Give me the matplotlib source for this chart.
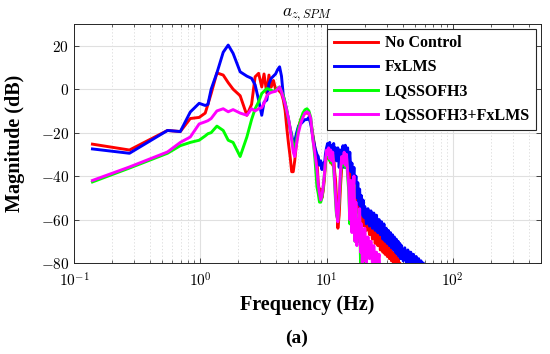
import numpy as np
import matplotlib
matplotlib.use("Agg")
import matplotlib.pyplot as plt
from matplotlib.ticker import LogLocator, NullFormatter, FixedLocator

plt.rcParams['mathtext.fontset'] = 'cm'
plt.rcParams['font.family'] = ['Liberation Serif', 'DejaVu Serif']

# ---------------- data ----------------
freq_low = [0.14, 0.275, 0.55, 0.695, 0.834, 0.98, 1.095, 1.15, 1.22, 1.355, 1.52, 1.665,
            1.82, 2.07, 2.34, 2.55, 2.72, 2.9, 3.07, 3.2, 3.37, 3.5, 3.65, 3.8, 3.95, 4.1,
            4.25, 4.4, 4.55, 4.7, 4.85, 5.0, 5.15, 5.3, 5.45, 5.6, 5.8, 6.0, 6.25, 6.5,
            6.75, 7.0, 7.25, 7.5, 7.8, 8.1, 8.4]

red_low = [-25.3, -28, -19, -19.5, -13.5, -13, -11, -7, -2, 7.5, 6.5, 3,
           0, -3, -12, -7, 5.7, 7.3, 1, 7, -2, 6.5, 1, 4, 0, 0,
           -1, -2, -5, -9.7, -18, -25, -31, -38, -38, -33, -24, -17.4, -14, -12,
           -11, -11, -11, -15, -21, -27, -33]
blue_low = [-27.5, -29.5, -19, -19.5, -10.5, -6.5, -7.5, -7, 0, 7.5, 17, 20.3,
            16.5, 8, 6, 5, 2, -5, -12, -6, -5, 2.5, 5, 6, 7, 9,
            10.3, 6, -3, -6.6, -10, -14, -18, -21, -25, -24, -20, -17, -16, -15,
            -14, -14, -13, -16, -22, -27, -30]
green_low = [-42.7, -36.3, -29.5, -26, -24.5, -23.5, -21.5, -20.5, -20, -17, -19, -23.5,
             -24.5, -31, -22, -14, -9, -5.8, -2, -1, 0.3, 0, -0.5, -1, -0.5, 0.5,
             1, -1, -3, -6, -10, -14, -18, -22, -26, -28, -23, -18, -14, -11,
             -9.5, -9, -10, -13, -22, -32, -45]
magenta_low = [-42, -35.8, -28.9, -24.5, -22, -16, -15, -14.5, -13.5, -10, -9, -10.4,
               -9.4, -11, -12, -9, -10, -9, -8.5, -6.5, -3, -2, -1.5, -1.2, -1, 0,
               1, -1.2, -4, -6.6, -10, -13.5, -18, -23.5, -29, -31, -25, -20, -15.8, -13,
               -11, -10.4, -11, -13.5, -23.5, -29.6, -37]

freq_high = [8.6, 8.8, 9.0, 9.2, 9.4, 9.6, 9.8, 10.0, 10.2, 10.4, 10.6, 10.8, 11.0, 11.2,
             11.4, 11.6, 11.8,
             12.0, 12.3, 12.6, 12.9, 13.2, 13.5, 13.8, 14.1, 14.4, 14.7, 15.0, 15.3, 15.6,
             15.9, 16.2, 16.5, 16.8, 17.1, 17.4, 17.7, 18.0, 18.3, 18.6, 18.9, 19.2, 19.5, 19.8,
             20.1, 20.7, 21.3, 21.9, 22.5, 23.1, 23.7, 24.3, 24.9, 25.5, 26.1, 26.7, 27.3,
             27.9, 28.5, 29.1, 29.7, 30.3, 30.9, 31.5, 32.1, 32.7, 33.3, 33.9, 34.5, 35.1,
             35.7, 36.3, 36.9, 37.5, 38.1, 38.7, 39.3,
             40.5, 41.7, 42.9, 44.1, 45.3, 46.5, 47.7, 48.9, 50.1, 51.3, 52.5, 53.7, 54.9,
             56.1, 57.3, 58.5, 59.7, 60.9, 62.1]

blue_high = [-31, -35, -33, -37, -34, -36, -30, -27, -25, -29, -24.5, -30, -26, -32,
             -25, -31, -27,
             -33, -27, -36, -28, -35, -26, -36, -25.8, -33, -27, -35, -29, -38,
             -34, -43, -36, -47, -40, -50, -43, -53, -46, -56, -49, -58, -51, -59,
             -54, -62, -55, -63, -56, -64, -57, -65, -58, -66, -60, -67, -61,
             -69, -62, -70, -64, -71, -65, -72, -66, -73, -67, -74, -68, -75,
             -69, -76, -70, -77, -71, -78, -72,
             -79, -73, -80, -74, -81, -75, -81, -76, -82, -77, -83, -78, -83,
             -79, -84, -80, -85, -81, -86]
red_high = [-43, -48, -46, -50, -47, -42, -35, -29, -27, -32, -28, -34, -29, -35,
            -31, -38, -42,
            -50, -64, -58, -45, -36, -30, -34, -28, -36, -31, -38, -35, -44,
            -40, -48, -43, -51, -46, -54, -49, -57, -52, -59, -54, -61, -56, -63,
            -57, -65, -59, -67, -61, -69, -62, -71, -64, -72, -66, -74, -67,
            -75, -69, -76, -70, -77, -72, -78, -73, -79, -75, -80, -76, -81,
            -77, -82, -78, -83, -80, -84, -81,
            -88, -88, -88, -88, -88, -88, -88, -88, -88, -88, -88, -88, -88,
            -88, -88, -88, -88, -88, -88]
magenta_high = [-44, -48, -51, -49, -45, -40, -33, -28, -30, -27, -32, -28, -33, -29,
                -35, -42, -50,
                -57, -61, -50, -38, -31, -34, -29, -35, -30, -38, -44, -60, -42,
                -66, -48, -40, -70, -52, -72, -60, -68, -55, -75, -62, -80, -66, -79,
                -64, -80, -68, -78, -70, -80, -72, -80, -75, -80, -76, -88, -88,
                -88, -88, -88, -88, -88, -88, -88, -88, -88, -88, -88, -88, -88,
                -88, -88, -88, -88, -88, -88, -88,
                -88, -88, -88, -88, -88, -88, -88, -88, -88, -88, -88, -88, -88,
                -88, -88, -88, -88, -88, -88]
green_high = [-48, -52, -52, -50, -46, -40, -34, -30, -31, -28, -33, -29, -34, -30,
              -37, -44, -52,
              -58, -60, -52, -40, -33, -35, -30, -36, -31, -40, -47, -62, -45,
              -64, -50, -44, -70, -55, -69, -62, -70, -58, -80, -65, -82, -70, -85,
              -88, -88, -88, -88, -88, -88, -88, -88, -88, -88, -88, -88, -88,
              -88, -88, -88, -88, -88, -88, -88, -88, -88, -88, -88, -88, -88,
              -88, -88, -88, -88, -88, -88, -88,
              -88, -88, -88, -88, -88, -88, -88, -88, -88, -88, -88, -88, -88,
              -88, -88, -88, -88, -88, -88]

labels = ["No Control", "FxLMS", "LQSSOFH3", "LQSSOFH3+FxLMS"]
colors = ["#ff0000", "#0000ff", "#00ff00", "#ff00ff"]

series = [red_low + red_high, blue_low + blue_high,
          green_low + green_high, magenta_low + magenta_high]
freq = freq_low + freq_high

# ---------------- figure ----------------
fig = plt.figure(figsize=(5.5, 3.54), dpi=100)
ax = fig.add_axes([74/550, 1-263/354, (541-74)/550, (263-24)/354])

for vals, c, lab in zip(series, colors, labels):
    ax.plot(freq, vals, color=c, lw=2.1, label=lab, solid_joinstyle='round')

ax.set_xscale('log')
ax.set_xlim(0.1, 500)
ax.set_ylim(-80, 30)
ax.set_yticks([-80, -60, -40, -20, 0, 20])
ax.set_yticklabels([r'$-80$', r'$-60$', r'$-40$', r'$-20$', r'$0$', r'$20$'])
ax.xaxis.set_major_locator(FixedLocator([0.1, 1, 10, 100]))
ax.set_xticklabels([r'$10^{-1}$', r'$10^{0}$', r'$10^{1}$', r'$10^{2}$'])
ax.xaxis.set_minor_locator(LogLocator(base=10, subs=np.arange(2, 10), numticks=20))
ax.xaxis.set_minor_formatter(NullFormatter())

ax.grid(True, which='major', color='#e0e0e0', lw=0.8)
ax.grid(True, which='minor', axis='x', color='#d8d8d8', lw=0.6, ls=(0, (1.5, 2.5)))
ax.set_axisbelow(True)

ax.tick_params(which='both', direction='in', top=True, right=True, colors='#262626',
               labelcolor='black', labelsize=11)
ax.tick_params(axis='x', which='major', pad=6)
ax.tick_params(which='major', length=3.5, width=0.6)
ax.tick_params(which='minor', length=2, width=0.5)
for s in ax.spines.values():
    s.set_color('#262626')
    s.set_linewidth(0.7)

ax.set_xlabel('Frequency (Hz)', fontsize=14.5, fontweight='bold', labelpad=4)
ax.set_ylabel('Magnitude (dB)', fontsize=14.5, fontweight='bold', labelpad=11)
ax.set_title(r'$a_{z,SPM}$', fontsize=12.5, pad=3)

leg = ax.legend(loc='upper right', prop={'weight': 'bold', 'size': 11.5},
                fancybox=False, framealpha=1, edgecolor='#262626',
                handlelength=2.8, handletextpad=0.4, borderpad=0.4, labelspacing=0.5,
                borderaxespad=0.3)
leg.get_frame().set_linewidth(0.8)

fig.text(0.54, 1-338/354, '(a)', ha='center', va='center', fontsize=14, fontweight='bold')

fig.savefig('out.png', dpi=100)
